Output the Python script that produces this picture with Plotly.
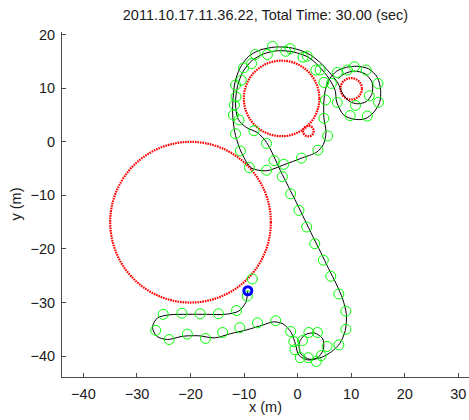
import plotly.graph_objects as go

# circular obstacles: centre and radius (m)
obs_cx = [-20.0, -3.0, 2.0, 10.0]
obs_cy = [-15.0, 8.1, 2.0, 9.9]
obs_r = [15.0, 7.05, 1.0, 2.0]

# estimated vehicle path (m)
path_x = [-9.3, -9.7, -11.0, -13.5, -17.0, -20.5, -24.0, -26.2, -27.1, -26.3,
          -24.3, -21.5, -18.5, -15.5, -12.5, -9.5, -6.5, -4.5, -2.7, -1.2,
          -0.4, 0.2, 1.8, 3.6, 4.8, 4.7, 3.2, 1.4, 0.3, 0.6,
          2.3, 4.5, 6.3, 7.9, 8.9, 9.1, 8.4, 7.2, 5.8, 4.3,
          2.8, 1.3, -0.2, -1.7, -3.2, -4.5, -5.8, -7.5, -9.6, -11.1,
          -11.6, -11.2, -10.2, -8.6, -6.4, -3.8, -0.9, 2.0, 4.0, 5.8,
          7.0, 7.3, 8.6, 10.6, 12.6, 14.1, 15.3, 15.5, 14.9, 13.3,
          11.1, 9.1, 7.3, 6.0, 5.2, 4.9, 4.9, 5.3, 4.8, 3.6,
          0.6, -2.6, -5.8, -8.6, -10.4, -11.6, -12.1, -12.1, -11.7, -10.8,
          -9.2, -7.1, -4.1, -1.0, 1.9, 4.1, 5.9, 7.5, 8.4, 9.6,
          11.1, 12.8, 13.9, 13.9, 12.6, 10.6, 8.7, 7.6]
path_y = [-27.8, -30.0, -31.6, -32.2, -32.2, -32.2, -32.3, -32.9, -34.6, -36.3,
          -36.9, -36.3, -36.2, -36.6, -35.8, -35.1, -34.2, -33.6, -34.0, -35.6,
          -37.8, -39.8, -40.7, -40.4, -38.8, -36.8, -35.7, -36.0, -37.5, -39.6,
          -40.6, -40.2, -39.2, -37.6, -35.2, -32.2, -29.3, -26.5, -23.7, -20.6,
          -17.6, -14.5, -11.4, -8.4, -5.4, -2.6, -0.1, 1.7, 2.7, 4.2,
          7.2, 10.5, 13.1, 15.1, 16.4, 17.0, 16.8, 15.8, 14.1, 11.9,
          9.6, 7.4, 5.0, 4.2, 4.3, 5.4, 7.3, 9.6, 12.0, 13.6,
          14.1, 13.9, 13.2, 11.8, 9.8, 7.5, 4.5, 1.8, -0.5, -1.9,
          -3.1, -4.3, -5.4, -4.9, -2.2, 1.2, 4.5, 7.5, 11.1, 13.7,
          15.9, 17.1, 17.7, 17.5, 16.5, 14.9, 13.0, 11.0, 9.0, 7.6,
          7.1, 7.5, 9.0, 11.1, 12.7, 13.2, 12.7, 11.8]

# measured positions (m)
meas_x = [-8.45, -9.4, -11.4, -14.8, -18.2, -21.6, -25.1, -26.5, -24.0, -20.6,
          -17.2, -14.0, -10.8, -7.5, -4.1, -1.3, 2.1, 3.7, -0.7, 0.9,
          -0.5, 0.5, 2.0, 3.5, 4.4, 5.5, 7.7, 9.0, 9.0, 7.7,
          6.2, 4.8, 3.2, 1.7, 0.25, -1.3, -2.85, -4.4, -5.8, -8.15,
          -11.6, -10.7, -9.0, -5.8, -2.6, 0.7, 3.8, 5.6, 4.9, 5.2,
          -12.0, -10.95, -11.8, -11.5, -11.6, -10.5, -10.1, -8.6, -7.9, -5.65,
          -4.7, -2.24, -1.4, 1.0, 1.8, 3.4, 4.2, 4.9, 6.3, 7.4,
          9.3, 10.6, 12.8, 15.0, 13.4, 15.1, 13.0, 9.8, 10.8, 7.4]
meas_y = [-25.6, -28.8, -31.5, -32.1, -32.1, -32.0, -32.2, -35.2, -36.9, -35.9,
          -36.7, -35.6, -34.7, -33.8, -33.4, -35.4, -35.6, -35.6, -37.3, -37.1,
          -38.8, -40.3, -40.3, -41.0, -39.9, -38.2, -37.9, -35.0, -31.6, -28.4,
          -25.1, -22.1, -19.0, -15.9, -12.8, -9.7, -6.5, -3.5, -0.3, 2.06,
          1.5, -1.7, -4.8, -5.3, -4.2, -3.05, -1.56, 1.1, 4.4, 7.8,
          5.0, 4.1, 6.9, 8.4, 10.6, 11.5, 13.8, 14.6, 16.3, 16.3,
          17.8, 16.9, 17.4, 15.8, 16.0, 13.4, 13.4, 11.1, 10.9, 12.95,
          13.4, 14.0, 13.4, 10.9, 8.6, 7.4, 4.8, 4.9, 6.8, 7.35]

# current vehicle position (m)
cur_x = [-9.3]
cur_y = [-27.8]

x_ticks = [-40, -30, -20, -10, 0, 10, 20, 30]
y_ticks = [-40, -30, -20, -10, 0, 10, 20]

font_family = "Liberation Sans, Arial, sans-serif"
axis_color = "#4a4a4a"
text_color = "#1a1a1a"

fig = go.Figure()

fig.add_trace(go.Scatter(
    x=path_x, y=path_y, mode="lines",
    line=dict(color="black", width=1, shape="spline", smoothing=0.8),
    hoverinfo="skip", showlegend=False,
))
fig.add_trace(go.Scatter(
    x=meas_x, y=meas_y, mode="markers",
    marker=dict(symbol="circle-open", size=10, color="#00ff00",
                line=dict(color="#00ff00", width=1)),
    showlegend=False,
))
fig.add_trace(go.Scatter(
    x=cur_x, y=cur_y, mode="markers",
    marker=dict(symbol="circle-open", size=8, color="#0000ff",
                line=dict(color="#0000ff", width=3)),
    showlegend=False,
))

# obstacle outlines, drawn in data units underneath the traces
for cx, cy, r in zip(obs_cx, obs_cy, obs_r):
    fig.add_shape(
        type="circle", xref="x", yref="y", layer="below",
        x0=cx - r, x1=cx + r, y0=cy - r, y1=cy + r,
        line=dict(color="#ff0000", width=2.2, dash="1.6px,0.9px"),
    )

fig.update_layout(
    width=469, height=420,
    margin=dict(l=62, r=0, t=32, b=43),
    paper_bgcolor="white", plot_bgcolor="white",
    font=dict(family=font_family, size=14.5, color=text_color),
    title=dict(text="2011.10.17.11.36.22, Total Time: 30.00 (sec)",
               x=0.566, xanchor="center",
               y=1 - 14.5 / 420, yanchor="middle", yref="container",
               font=dict(size=14.5, color=text_color)),
    xaxis=dict(range=[-44.0, 32.0], tickvals=x_ticks, ticks="inside",
               ticklen=4, tickcolor=axis_color, showline=True,
               linecolor=axis_color, linewidth=1, showgrid=False,
               zeroline=False, mirror=False, ticklabelstandoff=4),
    yaxis=dict(range=[-43.9, 20.5], tickvals=y_ticks, ticks="inside",
               ticklen=4, tickcolor=axis_color, showline=True,
               linecolor=axis_color, linewidth=1, showgrid=False,
               zeroline=False, mirror=False, ticklabelstandoff=3),
    annotations=[
        dict(text="x (m)", xref="paper", yref="paper", x=0.5, y=0,
             yshift=-30, xanchor="center", yanchor="middle",
             showarrow=False),
        dict(text="y (m)", xref="paper", yref="paper", x=0, y=0.5,
             xshift=-47, xanchor="center", yanchor="middle",
             textangle=-90, showarrow=False),
    ],
)

fig.write_html("out.html")
